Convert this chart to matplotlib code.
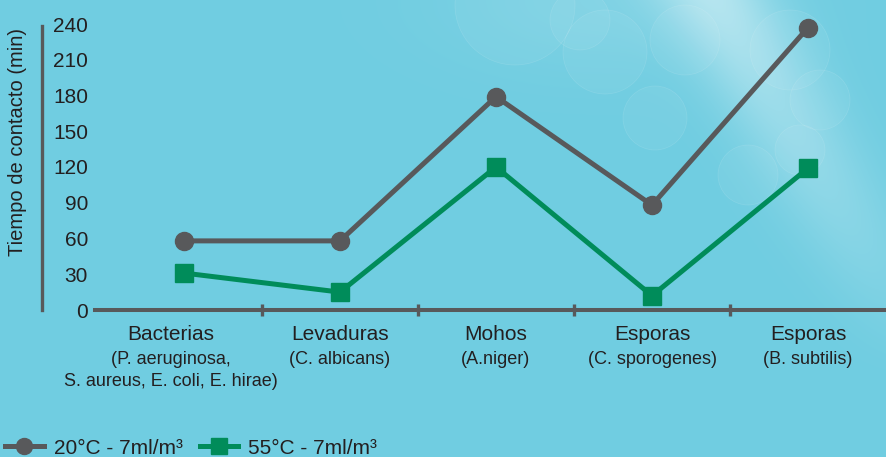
import numpy as np
import matplotlib.pyplot as plt
from matplotlib.lines import Line2D
from matplotlib.patches import Circle

# data
categories = ["Bacterias", "Levaduras", "Mohos", "Esporas", "Esporas"]
subtitles = ["(P. aeruginosa,\nS. aureus, E. coli, E. hirae)", "(C. albicans)",
             "(A.niger)", "(C. sporogenes)", "(B. subtilis)"]
temp_20 = [58, 58, 179, 88, 237]
temp_55 = [31, 15, 120, 12, 119]
y_ticks = [0, 30, 60, 90, 120, 150, 180, 210, 240]
legend_labels = ["20°C - 7ml/m³", "55°C - 7ml/m³"]

BG = "#70cde1"
GRAY = "#58595b"
GREEN = "#008c5a"
TXT = "#231f20"
W, H = 886, 457

plt.rcParams['font.family'] = ['Liberation Sans', 'DejaVu Sans']

fig = plt.figure(figsize=(W / 100, H / 100), dpi=100)
fig.patch.set_facecolor(BG)

# decorative background: light diagonal streak + faint bubbles
bg = fig.add_axes([0, 0, 1, 1], zorder=0)
bg.axis('off')
yy, xx = np.mgrid[0:H, 0:W]
d = (xx - 715) * 0.865 - yy * 0.502
a = 0.42 * np.exp(-(d / 50.0) ** 2) * np.clip(1 - yy / 380.0, 0, 1)
a += 0.10 * np.exp(-(((xx - 600) / 160.0) ** 2 + (yy / 70.0) ** 2))
base = np.array([0x70, 0xcd, 0xe1]) / 255.0
img = base[None, None, :] * (1 - a[..., None]) + a[..., None]
bg.imshow(img, extent=[0, W, H, 0], aspect='auto')
for cx, cy, r in [(515, 5, 60), (605, 52, 42), (655, 118, 32), (685, 40, 35),
                  (790, 50, 40), (820, 100, 30), (800, 150, 25), (748, 175, 30),
                  (580, 20, 30)]:
    bg.add_patch(Circle((cx, cy), r, facecolor=(1, 1, 1, 0.05),
                        edgecolor=(1, 1, 1, 0.12), lw=0.5))
bg.set_xlim(0, W)
bg.set_ylim(H, 0)

# main axes
ax = fig.add_axes([95 / W, (H - 310) / H, (W - 95) / W, (310 - 24) / H], zorder=1)
ax.patch.set_alpha(0)
x = np.arange(len(categories))
ax.set_xlim(-89 / 156, (W - 184) / 156)
ax.set_ylim(0, 240)

ax.plot(x, temp_20, color=GRAY, lw=3.6, marker='o', ms=13, clip_on=False, zorder=3)
ax.plot(x, temp_55, color=GREEN, lw=3.6, marker='s', ms=13.5, clip_on=False, zorder=4)

for s in ['top', 'right', 'left']:
    ax.spines[s].set_visible(False)
ax.spines['bottom'].set_color(GRAY)
ax.spines['bottom'].set_linewidth(2.9)

ax.set_xticks([])
ax.set_xticks(x[:-1] + 0.5, minor=True)
ax.tick_params(axis='x', which='minor', direction='inout', length=9, width=2.4, color=GRAY)
ax.set_yticks(y_ticks)
ax.tick_params(axis='y', length=0, pad=5, labelsize=15, labelcolor=TXT)

# separate vertical axis line
ax.plot([-53 / (W - 95)] * 2, [0, 238], transform=ax.get_yaxis_transform(),
        color=GRAY, lw=2.4, clip_on=False)

fig.text(18 / W, 1 - 142 / H, "Tiempo de contacto (min)", rotation=90,
         ha='center', va='center', fontsize=14.5, color=TXT)

for i, (cat, sub) in enumerate(zip(categories, subtitles)):
    dx = -13 if i == 0 else 0
    ax.annotate(cat, xy=(i, 0), xycoords=('data', 'axes fraction'),
                xytext=(dx, -24), textcoords='offset pixels',
                ha='center', va='center', fontsize=15, color=TXT)
    ax.annotate(sub, xy=(i, 0), xycoords=('data', 'axes fraction'),
                xytext=(dx, -41), textcoords='offset pixels',
                ha='center', va='top', fontsize=13, color=TXT, linespacing=1.4)

handles = [Line2D([], [], color=GRAY, lw=3.6, marker='o', ms=11.5),
           Line2D([], [], color=GREEN, lw=3.6, marker='s', ms=11.5)]
fig.legend(handles, legend_labels, loc='center left', bbox_to_anchor=(5 / W, 1 - 448 / H),
           frameon=False, ncol=2, fontsize=15, handlelength=1.85, handletextpad=0.5,
           columnspacing=0.8, borderpad=0, borderaxespad=0, labelcolor=TXT)

fig.savefig("out.png", dpi=100, facecolor=BG)
